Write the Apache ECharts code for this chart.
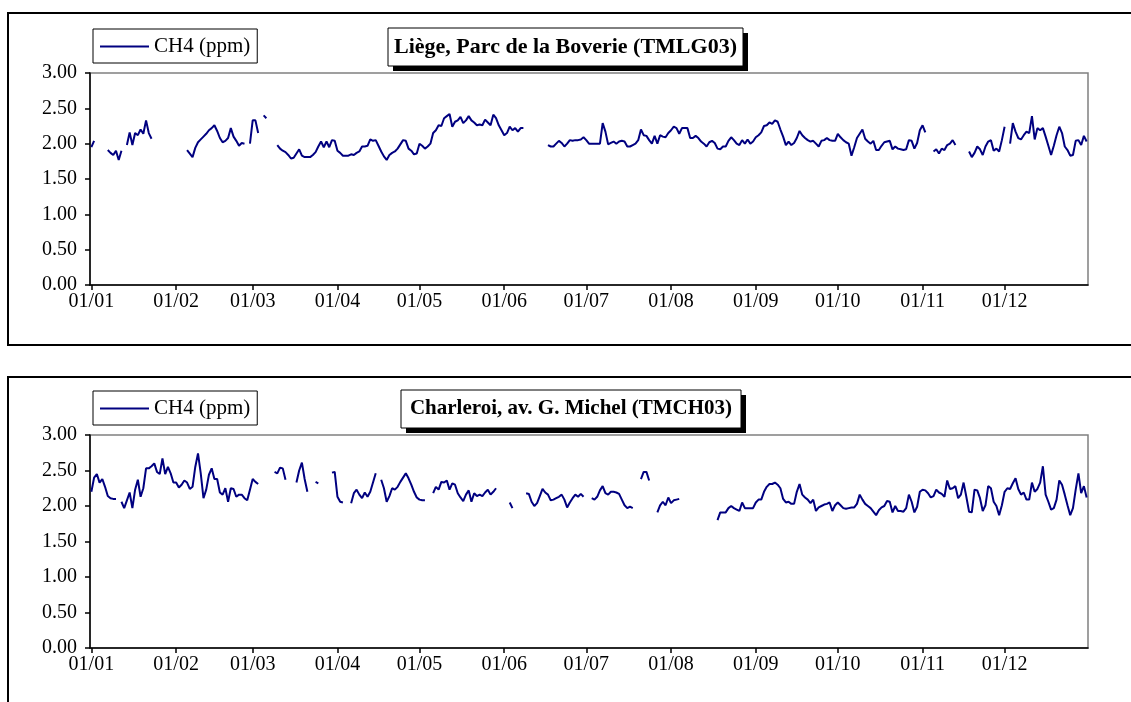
<!DOCTYPE html>
<html>
<head>
<meta charset="utf-8">
<script src="https://cdn.jsdelivr.net/npm/echarts@6/dist/echarts.min.js"></script>
<style>
    html, body { margin: 0; padding: 0; background: #fff; }
    #chart { width: 1131px; height: 702px; }
</style>
</head>
<body>
<div id="chart"></div>
<script>
// premier jour de chaque mois (index du jour dans l'année) et libellés de l'axe
var monthStart = [0, 31, 59, 90, 120, 151, 181, 212, 243, 273, 304, 334];
var monthLabels = ['01/01', '01/02', '01/03', '01/04', '01/05', '01/06',
    '01/07', '01/08', '01/09', '01/10', '01/11', '01/12'];
var yTicks = [0, 0.5, 1, 1.5, 2, 2.5, 3];

// CH4 (ppm), moyennes journalières - Liège, Parc de la Boverie (TMLG03)
var liegeCH4 = [
    1.95,2.04,null,null,null,null,1.91,1.87,1.84,1.90,1.77,1.90,null,1.98,2.16,1.98,2.15,2.12,2.20,2.14,2.33,2.15,2.07,null,null,null,null,null,null,null,null,
    null,null,null,null,1.91,1.86,1.81,1.94,2.02,2.06,2.10,2.14,2.19,2.22,2.26,2.18,2.08,2.02,2.04,2.08,2.22,2.10,2.04,1.97,2.01,2.00,null,2.00,
    2.33,2.33,2.15,null,2.40,2.36,null,null,null,1.98,1.93,1.90,1.88,1.84,1.79,1.80,1.86,1.92,1.83,1.81,1.81,1.81,1.84,1.88,1.96,2.03,1.95,2.03,1.95,2.05,2.04,
    1.90,1.87,1.83,1.83,1.83,1.85,1.84,1.87,1.89,1.96,1.96,1.97,2.06,2.04,2.05,1.97,1.89,1.82,1.77,1.84,1.87,1.89,1.93,1.99,2.05,2.04,1.93,1.90,1.85,1.86,
    2.00,1.97,1.93,1.96,2.00,2.15,2.19,2.26,2.25,2.36,2.39,2.42,2.24,2.31,2.33,2.38,2.29,2.33,2.39,2.33,2.30,2.26,2.27,2.26,2.34,2.30,2.26,2.41,2.36,2.26,2.19,
    2.12,2.15,2.24,2.19,2.22,2.17,2.22,2.22,null,null,null,null,null,null,null,null,1.98,1.96,1.96,2.00,2.04,2.01,1.96,2.00,2.05,2.04,2.05,2.05,2.06,2.09,
    2.05,2.00,2.00,2.00,2.00,2.00,2.29,2.17,1.99,2.01,2.03,2.00,2.03,2.04,2.03,1.96,1.96,1.98,2.00,2.05,2.20,2.12,2.11,2.05,2.00,2.11,2.00,2.12,2.10,2.09,2.15,
    2.19,2.24,2.22,2.14,2.22,2.22,2.22,2.08,2.08,2.11,2.08,2.03,2.00,1.96,2.02,2.04,2.01,1.93,1.92,1.96,1.96,2.04,2.09,2.05,2.00,1.98,2.05,2.00,2.06,2.00,2.03,
    2.09,2.12,2.16,2.25,2.26,2.30,2.28,2.33,2.31,2.20,2.10,1.98,2.03,1.98,2.01,2.08,2.18,2.12,2.08,2.05,2.03,2.04,2.00,1.96,2.04,2.05,2.08,2.05,2.04,2.04,
    2.14,2.09,2.05,2.02,2.00,1.83,1.95,2.08,2.14,2.20,2.07,2.03,2.00,2.04,1.91,1.91,1.97,2.02,2.03,2.04,1.92,1.96,1.93,1.92,1.91,1.92,2.05,2.04,1.93,2.01,2.19,
    2.26,2.16,null,null,1.89,1.92,1.86,1.93,1.91,1.98,2.00,2.05,1.98,null,null,null,null,1.89,1.81,1.87,1.96,1.92,1.84,1.96,2.03,2.05,1.90,1.93,1.89,2.05,
    2.24,null,2.00,2.29,2.17,2.08,2.06,2.12,2.17,2.15,2.39,2.06,2.22,2.19,2.22,2.10,1.97,1.84,1.97,2.12,2.24,2.15,1.96,1.91,1.83,1.84,2.04,2.05,1.98,2.11,2.03
];

// CH4 (ppm), moyennes journalières - Charleroi, av. G. Michel (TMCH03)
var charleroiCH4 = [
    2.20,2.40,2.45,2.33,2.38,2.27,2.14,2.11,2.10,2.10,null,2.06,1.97,2.08,2.19,1.97,2.23,2.37,2.13,2.25,2.53,2.53,2.56,2.60,2.48,2.45,2.67,2.45,2.55,2.46,2.33,
    2.33,2.26,2.30,2.36,2.33,2.24,2.27,2.55,2.74,2.46,2.11,2.23,2.44,2.53,2.38,2.38,2.19,2.16,2.25,2.06,2.25,2.24,2.13,2.16,2.16,2.11,2.08,2.23,
    2.38,2.34,2.31,null,null,null,null,null,2.48,2.46,2.54,2.53,2.37,null,null,null,2.33,2.50,2.61,2.38,2.20,null,null,2.34,2.32,null,null,null,null,2.47,2.48,
    2.13,2.06,2.05,null,null,2.04,2.18,2.23,2.16,2.11,2.19,2.13,2.20,2.33,2.46,null,2.37,2.25,2.06,2.14,2.25,2.23,2.27,2.34,2.40,2.46,2.39,2.30,2.20,2.12,
    2.09,2.08,2.08,null,null,2.18,2.27,2.23,2.34,2.33,2.36,2.23,2.32,2.30,2.18,2.12,2.07,2.16,2.22,2.06,2.18,2.14,2.16,2.14,2.19,2.23,2.16,2.20,2.25,null,null,
    null,null,2.05,1.97,null,null,null,null,2.18,2.17,2.06,2.00,2.04,2.14,2.24,2.19,2.16,2.08,2.09,2.11,2.13,2.16,2.09,1.98,2.05,2.11,2.16,2.13,2.17,2.13,
    null,null,2.11,2.09,2.13,2.22,2.28,2.18,2.16,2.20,2.20,2.19,2.17,2.09,2.01,1.97,1.99,1.97,null,null,2.38,2.48,2.48,2.36,null,null,1.91,2.01,2.06,2.01,2.12,
    2.04,2.08,2.09,2.10,null,null,null,null,null,null,null,null,null,null,null,null,null,1.80,1.91,1.91,1.91,1.97,2.00,1.97,1.95,1.93,2.05,1.97,1.97,1.97,1.97,
    2.05,2.09,2.09,2.20,2.27,2.31,2.31,2.33,2.30,2.25,2.10,2.05,2.06,2.03,2.03,2.20,2.31,2.16,2.12,2.09,2.04,2.09,1.93,1.98,2.00,2.02,2.03,2.05,1.93,2.01,
    2.05,2.01,1.97,1.96,1.97,1.98,1.98,2.03,2.16,2.09,2.03,2.00,1.97,1.92,1.87,1.94,1.98,2.00,2.07,2.06,1.91,2.00,1.93,1.93,1.92,1.97,2.16,2.06,1.91,1.99,2.20,
    2.23,2.22,2.18,2.12,2.14,2.23,2.19,2.17,2.13,2.36,2.24,2.25,2.28,2.11,2.16,2.33,2.13,1.92,1.91,2.23,2.22,2.11,1.93,2.01,2.28,2.25,2.06,2.00,1.87,2.01,
    2.20,2.25,2.24,2.32,2.39,2.24,2.16,2.19,2.09,2.09,2.33,2.20,2.24,2.33,2.56,2.16,2.06,1.95,1.97,2.09,2.36,2.30,2.16,2.01,1.87,1.97,2.23,2.46,2.18,2.28,2.12
];

var days = liegeCH4.map(function (v, i) { return String(i); });

var fontFamily = 'Liberation Serif';
var navy = '#000080';

function isMonthStart(index) {
    return monthStart.indexOf(index) >= 0;
}

function buildXAxis(gridIndex) {
    return {
        type: 'category',
        gridIndex: gridIndex,
        data: days,
        boundaryGap: true,
        axisLine: { show: true, lineStyle: { color: '#000', width: 1.5 } },
        axisTick: { show: true, interval: isMonthStart, alignWithLabel: true, length: 5, lineStyle: { color: '#000', width: 1.5 } },
        axisLabel: {
            interval: isMonthStart,
            margin: 7,
            color: '#000',
            fontFamily: fontFamily,
            fontSize: 20,
            formatter: function (value, index) {
                return monthLabels[monthStart.indexOf(index)];
            }
        },
        splitLine: { show: false }
    };
}

function buildYAxis(gridIndex) {
    return {
        type: 'value',
        gridIndex: gridIndex,
        min: yTicks[0],
        max: yTicks[yTicks.length - 1],
        interval: yTicks[1] - yTicks[0],
        axisLine: { show: true, lineStyle: { color: '#000', width: 1.5 } },
        axisTick: { show: true, length: 5, lineStyle: { color: '#000', width: 1.5 } },
        axisLabel: {
            margin: 13,
            color: '#000',
            fontFamily: fontFamily,
            fontSize: 20,
            formatter: function (v) { return v.toFixed(2); }
        },
        splitLine: { show: false }
    };
}

// cadre de titre avec ombre portée, comme dans Excel
function buildTitleBox(text, x, y, w, h, size) {
    return {
        type: 'group',
        silent: true,
        children: [
            { type: 'rect', shape: { x: x + 5, y: y + 5, width: w, height: h }, style: { fill: '#000' } },
            { type: 'rect', shape: { x: x, y: y, width: w, height: h }, style: { fill: '#fff', stroke: '#000', lineWidth: 1 } },
            {
                type: 'text',
                x: x + w / 2,
                y: y + h / 2,
                style: {
                    text: text,
                    fill: '#000',
                    font: 'bold ' + size + 'px "Liberation Serif"',
                    align: 'center',
                    verticalAlign: 'middle'
                }
            }
        ]
    };
}

function buildLegend(top) {
    return {
        data: ['CH4 (ppm)'],
        left: 93,
        top: top,
        orient: 'horizontal',
        padding: [7, 7, 6, 7],
        borderColor: '#000',
        borderWidth: 1,
        backgroundColor: '#fff',
        icon: 'rect',
        itemWidth: 49,
        itemHeight: 2,
        itemGap: 5,
        selectedMode: false,
        textStyle: { fontFamily: fontFamily, fontSize: 21, color: '#000', padding: [0, 0, 0, 0] }
    };
}

function buildSeries(data, index) {
    return {
        name: 'CH4 (ppm)',
        type: 'line',
        xAxisIndex: index,
        yAxisIndex: index,
        data: data,
        symbol: 'none',
        connectNulls: false,
        lineStyle: { color: navy, width: 2 },
        itemStyle: { color: navy }
    };
}

var myChart = echarts.init(document.getElementById('chart'));
var option = {
    animation: false,
    backgroundColor: '#fff',
    legend: [buildLegend(29), buildLegend(391)],
    grid: [
        { left: 90, top: 73, width: 998, height: 212, show: true, borderColor: '#808080', borderWidth: 1.5 },
        { left: 90, top: 435, width: 998, height: 213, show: true, borderColor: '#808080', borderWidth: 1.5 }
    ],
    xAxis: [buildXAxis(0), buildXAxis(1)],
    yAxis: [buildYAxis(0), buildYAxis(1)],
    series: [buildSeries(liegeCH4, 0), buildSeries(charleroiCH4, 1)],
    graphic: [
        { type: 'rect', silent: true, z: -10, shape: { x: 8, y: 13, width: 1140, height: 332 }, style: { fill: 'none', stroke: '#000', lineWidth: 2 } },
        { type: 'rect', silent: true, z: -10, shape: { x: 8, y: 377, width: 1140, height: 400 }, style: { fill: 'none', stroke: '#000', lineWidth: 2 } },
        buildTitleBox('Liège, Parc de la Boverie (TMLG03)', 388, 28, 355, 38, 22),
        buildTitleBox('Charleroi, av. G. Michel (TMCH03)', 401, 390, 340, 38, 21)
    ]
};
myChart.setOption(option);
</script>
</body>
</html>
